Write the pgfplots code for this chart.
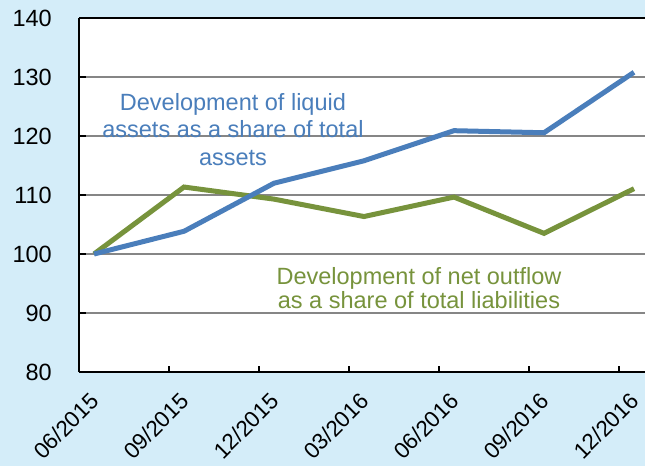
\documentclass[border=0pt]{standalone}
\usepackage{pgfplots}
\pgfplotsset{compat=1.18}
\usepackage{fontspec}
\setmainfont{Liberation Sans}
\definecolor{bgblue}{HTML}{D4EDF9}
\definecolor{lblue}{HTML}{4A7EBB}
\definecolor{lgreen}{HTML}{77933C}
\definecolor{gridgray}{HTML}{868686}
\begin{document}
\begin{tikzpicture}
\fill[bgblue] (0,0) rectangle (645pt,466pt);
\begin{scope}[overlay]
\clip (0,0) rectangle (645pt,466pt);
\begin{axis}[
  at={(79pt,94pt)}, anchor=south west,
  scale only axis, width=566pt, height=354pt,
  xmin=-0.1667, xmax=6.1222,
  ymin=80, ymax=140,
  axis lines=left,
  axis line style={-, line width=2.5pt, black},
  axis background/.style={fill=white},
  ytick={80,90,...,140},
  xtick={0,1,2,3,4,5,6},
  xticklabels={06/2015,09/2015,12/2015,03/2016,06/2016,09/2016,12/2016},
  minor xtick={0.8333,1.8333,2.8333,3.8333,4.8333,5.8333},
  tick align=inside,
  major x tick style={draw=none},
  every tick/.style={black, line width=1.5pt},
  major tick length=7pt, minor tick length=6pt,
  ymajorgrids,
  grid style={gridgray, line width=1.5pt},
  /pgf/number format/assume math mode=true,
  tick label style={font=\fontsize{23.5}{27}\selectfont},
  yticklabel style={anchor=east, inner sep=0pt, xshift=-27pt},
  xticklabel style={font=\fontsize{22.5}{26}\selectfont, xshift=-5pt, yshift=-19pt, rotate=45, anchor=north east, inner sep=0pt},
  clip=false,
]
\addplot[lgreen, line width=5pt] coordinates {
  (0,100) (1,111.35) (2,109.3) (3,106.35) (4,109.65) (5,103.5) (6,111.07)
};
\addplot[lblue, line width=5pt] coordinates {
  (0,100) (1,103.85) (2,112.0) (3,115.8) (4,120.9) (5,120.55) (6,130.8)
};
\draw[line width=2.5pt, black] (rel axis cs:0,1) -- (rel axis cs:1,1);
\begin{scope}[every node/.style={font=\fontsize{23.5}{27}\selectfont, inner sep=0pt, anchor=base}]
\node[text=lblue] at (axis cs:1.544,124.29) {Development of liquid};
\node[text=lblue] at (axis cs:1.544,119.78) {assets as a share of total};
\node[text=lblue] at (axis cs:1.544,115.08) {assets};
\node[text=lgreen] at (axis cs:3.611,94.86) {Development of net outflow};
\node[text=lgreen] at (axis cs:3.611,90.68) {as a share of total liabilities};
\end{scope}
\end{axis}
\end{scope}
\end{tikzpicture}
\end{document}
